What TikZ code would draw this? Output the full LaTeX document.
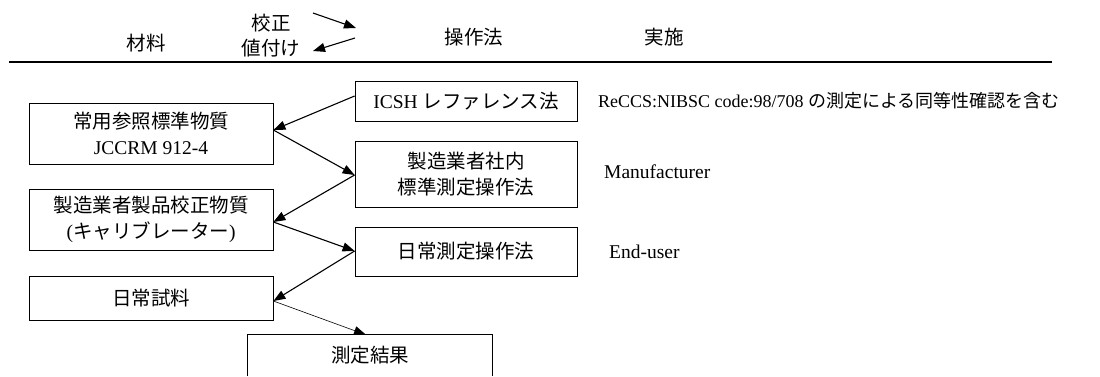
\documentclass[tikz,border=0pt]{standalone}
\usepackage{fontspec}
\setmainfont{Liberation Serif}
\newfontfamily\jp{Noto Sans CJK JP}
\usetikzlibrary{arrows.meta,calc}
\begin{document}
\begin{tikzpicture}[x=1pt,y=-1pt,
  txt/.style={inner sep=0pt, font=\fontsize{19.5}{26}\selectfont, align=center},
  lbox/.style={draw, line width=0.8pt, inner sep=0pt, minimum width=244pt, align=center, font=\fontsize{19.5}{26}\selectfont},
  mbox/.style={draw, line width=0.8pt, inner sep=0pt, minimum width=222pt, align=center, font=\fontsize{19.5}{26}\selectfont},
  flow/.style={line width=1.1pt, -{Triangle[length=12pt,width=9pt]}},
  thinflow/.style={line width=0.6pt, -{Triangle[length=12pt,width=9pt]}}
]
\useasboundingbox (0,0) rectangle (1100,376);
% header
\node[txt] (h1) at (146,43) {\jp 材料};
\node[txt] (h2a) at (271,23) {\jp 校正};
\node[txt] (h2b) at (271,48) {\jp 値付け};
\node[txt] (h3) at (474,37) {\jp 操作法};
\node[txt] (h4) at (664,37) {\jp 実施};
\coordinate (ha1) at (313,13);
\coordinate (ha2) at (356,28);
\coordinate (hb1) at (355,38);
\coordinate (hb2) at (313,51);
\draw[flow] (ha1) -- (ha2);
\draw[flow] (hb1) -- (hb2);
\coordinate (rl1) at (9,62);
\coordinate (rl2) at (1052,62);
\draw[line width=1.3pt] (rl1) -- (rl2);
% left column
\node[lbox, minimum height=61pt] (ref) at (151,133.5) {{\jp 常用参照標準物質}\\JCCRM 912-4};
\node[lbox, minimum height=61pt] (cal) at (151,219.5) {{\jp 製造業者製品校正物質}\\({\jp キャリブレーター})};
\node[lbox, minimum height=44pt] (smp) at (151,298) {\jp 日常試料};
% middle column
\node[mbox, minimum height=40pt] (icsh) at (466,101) {ICSH {\jp レファレンス法}};
\node[mbox, minimum height=66pt] (msp) at (466,174) {{\jp 製造業者社内}\\{\jp 標準測定操作法}};
\node[mbox, minimum height=49pt] (rmp) at (466,251.5) {\jp 日常測定操作法};
% result (bottom cut off)
\node[txt, minimum width=244pt, minimum height=41pt] (res) at (370,355.5) {\jp 測定結果};
\draw[line width=0.8pt] (res.south west) -- (res.north west) -- (res.north east) -- (res.south east);
% connectors
\draw[flow] ([yshift=5pt]icsh.west) -- ([yshift=3.5pt]ref.east);
\draw[flow] ([yshift=3.5pt]ref.east) -- ([yshift=-1pt]msp.west);
\draw[flow] ([yshift=-1pt]msp.west) -- ([yshift=-2.5pt]cal.east);
\draw[flow] ([yshift=-2.5pt]cal.east) -- ([yshift=0.5pt]rmp.west);
\draw[flow] ([yshift=0.5pt]rmp.west) -- ([yshift=-3pt]smp.east);
\draw[thinflow] ([yshift=-3pt]smp.east) -- ([xshift=-4pt]res.north);
% notes
\node[txt, anchor=west, font=\fontsize{18}{22}\selectfont] (n1) at (598,101) {ReCCS:NIBSC code:98/708 {\jp の測定による同等性確認を含む}};
\node[txt, anchor=west] (n2) at (604,172) {Manufacturer};
\node[txt, anchor=west] (n3) at (609,252) {End-user};
\end{tikzpicture}
\end{document}
